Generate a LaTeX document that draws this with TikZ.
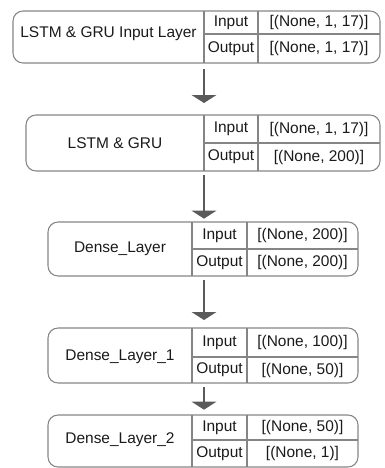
\documentclass[tikz,border=0pt]{standalone}
\usepackage{fontspec}
\setmainfont{Liberation Sans}
\usetikzlibrary{arrows.meta}
\definecolor{framegray}{HTML}{858585}
\definecolor{arrowgray}{HTML}{5A5A5A}
\definecolor{txt}{HTML}{1A1A1A}
\tikzset{
  frame/.style={draw=framegray,line width=0.8pt,rounded corners=7.5pt,outer sep=0pt,inner sep=0pt},
  cell/.style={draw=framegray,line width=0.8pt},
  lbl/.style={text=txt,inner sep=0pt,font=\fontsize{11.6}{13}\selectfont},
  flow/.style={draw=arrowgray,line width=1pt,-{Triangle[width=18.5pt,length=6pt]},arrowgray}
}
\begin{document}
\begin{tikzpicture}[x=0.75pt,y=-0.75pt]
  \useasboundingbox (0,0) rectangle (385,468);
  \coordinate (ax) at (204,0);

  % layer / x left, divider 1, divider 2, x right / y top, mid, bottom / texts
  \foreach \l/\name/\xl/\xa/\xb/\xr/\yt/\ym/\yb/\vin/\vout in {
      1/{LSTM \& GRU Input Layer}/13/204/258/380/11/34/63/{[(None, 1, 17)]}/{[(None, 1, 17)]},
      2/{LSTM \& GRU}/26/204/258/380/115/143/171/{[(None, 1, 17)]}/{[(None, 200)]},
      3/{Dense\_Layer}/48/192/247/358/222/249/276/{[(None, 200)]}/{[(None, 200)]},
      4/{Dense\_Layer\_1}/48/192/247/358/328/357/383/{[(None, 100)]}/{[(None, 50)]},
      5/{Dense\_Layer\_2}/48/192/247/358/415/440/467/{[(None, 50)]}/{[(None, 1)]}}
  {
    \node[frame,minimum width={(\xr-\xl)*0.75pt},minimum height={(\yb-\yt)*0.75pt}]
      (f\l) at ({(\xl+\xr)/2},{(\yt+\yb)/2}) {};
    \draw[cell] (\xa,\yt) -- (\xa,\yb);
    \draw[cell] (\xb,\yt) -- (\xb,\yb);
    \draw[cell] (\xa,\ym) -- (\xr,\ym);
    \node[lbl] (n\l) at ({(\xl+\xa)/2},\ym) {\name};
    \node[lbl] (i\l) at ({(\xa+\xb)/2},{(\yt+\ym)/2}) {Input};
    \node[lbl] (o\l) at ({(\xa+\xb)/2},{(\ym+\yb)/2}) {Output};
    \node[lbl] (vi\l) at ({(\xb+\xr)/2},{(\yt+\ym)/2}) {\vin};
    \node[lbl] (vo\l) at ({(\xb+\xr)/2},{(\ym+\yb)/2}) {\vout};
  }

  \foreach \a/\b/\s/\g in {1/2/4.5pt/9pt, 2/3/3pt/2.5pt, 3/4/3pt/6pt, 4/5/3pt/4pt}
    \draw[flow,shorten <=\s,shorten >=\g] (f\a.south -| ax) -- (f\b.north -| ax);
\end{tikzpicture}
\end{document}
